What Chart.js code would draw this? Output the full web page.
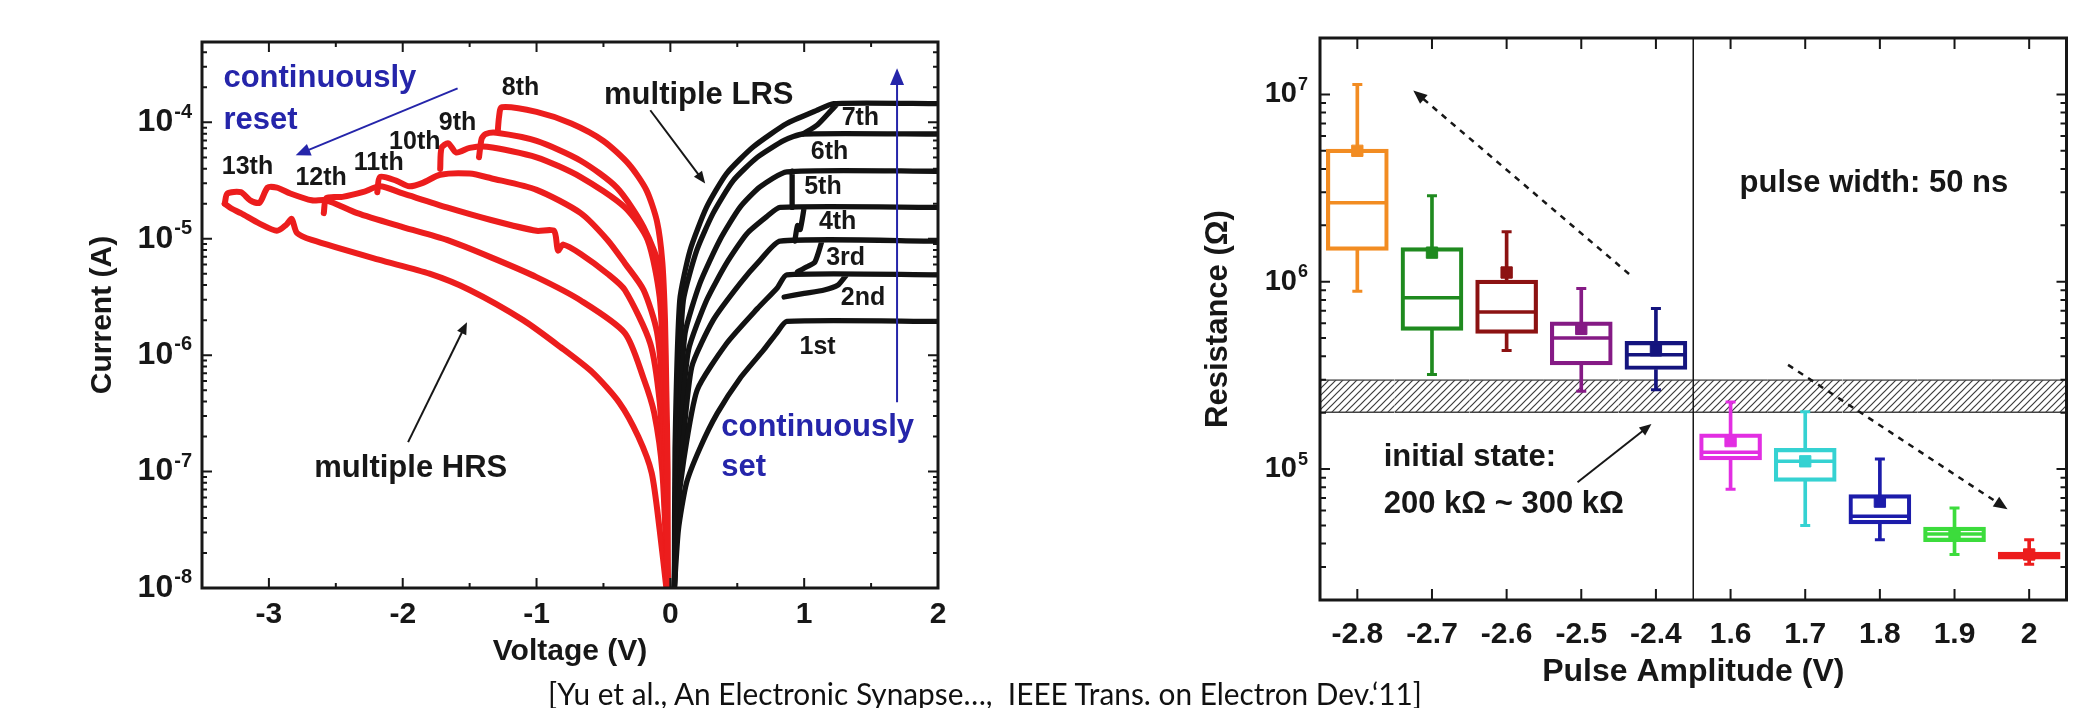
<!DOCTYPE html>
<html>
<head>
<meta charset="utf-8">
<script src="https://cdn.jsdelivr.net/npm/chart.js@4.4.1/dist/chart.umd.min.js"></script>
<style>
  html, body { margin: 0; padding: 0; background: #fff; }
  #wrap { position: relative; width: 2073px; height: 708px; overflow: hidden; background: #fff; }
  #ivChart { position: absolute; left: 0; top: 0; }
  #pulseChart { position: absolute; left: 1100px; top: 0; }
  #cite { position: absolute; left: 548px; top: 678px; font-family: Lato, "Open Sans", sans-serif; font-size: 30px; line-height: 30px; color: #111; white-space: pre; transform-origin: left top; }
</style>
</head>
<body>
<div id="wrap">
  <canvas id="ivChart" width="1000" height="708"></canvas>
  <canvas id="pulseChart" width="1000" height="708"></canvas>
  <div id="cite">[Yu et al., An Electronic Synapse…,  IEEE Trans. on Electron Dev.‘11]</div>
</div>
<script>
// ---- left panel: I-V sweeps as [voltage (V), current (A)], null = pen up ----
const set1 = [[0.03,1e-8],[0.06,3.16e-8],[0.12,7.94e-8],[0.22,1.58e-7],[0.35,3.16e-7],[0.52,6.31e-7],[0.70,1.12e-6],[0.80,1.58e-6],[0.87,1.95e-6],[2.0,1.95e-6]];
const set2 = [[0.03,1e-8],[0.05,3.98e-8],[0.10,1.26e-7],[0.20,5.01e-7],[0.42,1.26e-6],[0.65,2.51e-6],[0.80,3.80e-6],[0.87,4.90e-6],[2.0,4.90e-6],null,[0.85,3.16e-6],[1.0,3.39e-6],[1.15,3.63e-6],[1.25,3.98e-6],[1.31,4.79e-6]];
const set3 = [[0.03,1e-8],[0.05,5.01e-8],[0.09,1.58e-7],[0.16,7.94e-7],[0.32,2.0e-6],[0.52,4.12e-6],[0.67,6.53e-6],[0.82,9.55e-6],[2.0,9.55e-6],null,[0.95,5.2e-6],[1.02,5.75e-6],[1.08,6.31e-6],[1.13,9.33e-6]];
const set4 = [[0.03,1e-8],[0.045,6.31e-8],[0.08,2.51e-7],[0.135,1.10e-6],[0.27,2.95e-6],[0.42,6.17e-6],[0.57,1.10e-5],[0.72,1.55e-5],[0.82,1.86e-5],[2.0,1.86e-5],null,[0.93,9.55e-6],[0.95,1.3e-5],[0.97,1.2e-5],[1.0,1.86e-5]];
const set5 = [[0.03,1e-8],[0.04,6.31e-8],[0.07,3.16e-7],[0.11,1.55e-6],[0.22,4.12e-6],[0.37,9.77e-6],[0.52,1.86e-5],[0.67,2.79e-5],[0.87,3.76e-5],[2.0,3.80e-5],null,[0.91,1.86e-5],[0.91,3.80e-5]];
const set6 = [[0.03,1e-8],[0.04,1e-7],[0.06,5.01e-7],[0.097,2.95e-6],[0.197,7.94e-6],[0.32,1.66e-5],[0.47,3.16e-5],[0.65,5.01e-5],[0.85,7.0e-5],[0.99,7.94e-5],[2.0,7.94e-5]];
const set7 = [[0.03,1e-8],[0.035,1.58e-7],[0.07,2.95e-6],[0.147,7.94e-6],[0.27,1.86e-5],[0.42,3.63e-5],[0.62,6.17e-5],[0.87,9.77e-5],[1.09,1.26e-4],[1.22,1.45e-4],[2.0,1.45e-4],null,[0.99,7.94e-5],[1.1,9.55e-5],[1.2,1.26e-4],[1.24,1.41e-4]];

const reset8 = [[-0.02,1e-8],[-0.02,1e-7],[-0.03,5.0e-7],[-0.04,2.0e-6],[-0.06,6.3e-6],[-0.1,1.41e-5],[-0.18,2.63e-5],[-0.31,4.37e-5],[-0.5,6.92e-5],[-0.74,9.77e-5],[-1.0,1.23e-4],[-1.26,1.35e-4],[-1.28,1.12e-4],[-1.29,8.32e-5]];
const reset9 = [[-0.02,1e-8],[-0.03,1e-7],[-0.04,6.31e-7],[-0.07,5.01e-6],[-0.2,1.26e-5],[-0.4,2.75e-5],[-0.67,4.68e-5],[-1.0,6.92e-5],[-1.3,8.13e-5],[-1.38,7.94e-5],[-1.41,7.24e-5],[-1.43,5.01e-5]];
const reset10 = [[-0.02,1e-8],[-0.03,1e-7],[-0.05,6.31e-7],[-0.08,3.16e-6],[-0.17,9.77e-6],[-0.34,1.86e-5],[-0.67,3.39e-5],[-1.0,5.01e-5],[-1.37,6.17e-5],[-1.5,6.03e-5],[-1.6,5.50e-5],[-1.66,6.61e-5],[-1.71,6.03e-5],[-1.72,3.98e-5]];
const reset11 = [[-0.02,1e-8],[-0.04,1e-7],[-0.06,5.01e-7],[-0.1,1.58e-6],[-0.2,3.63e-6],[-0.34,6.17e-6],[-0.47,9.77e-6],[-0.67,1.66e-5],[-1.0,2.63e-5],[-1.34,3.31e-5],[-1.5,3.63e-5],[-1.72,3.55e-5],[-1.85,3.02e-5],[-1.95,2.82e-5],[-2.05,3.16e-5],[-2.17,3.39e-5],[-2.19,2.51e-5]];
const reset12 = [[-0.02,1e-8],[-0.05,1e-7],[-0.08,3.98e-7],[-0.15,1.26e-6],[-0.34,3.63e-6],[-0.47,5.01e-6],[-0.67,7.41e-6],[-0.8,8.91e-6],[-0.84,7.94e-6],[-0.87,1.17e-5],[-1.0,1.17e-5],[-1.34,1.45e-5],[-1.67,1.86e-5],[-2.0,2.45e-5],[-2.17,2.82e-5],[-2.3,2.51e-5],[-2.45,2.29e-5],[-2.57,2.24e-5],[-2.59,1.66e-5]];
const reset13 = [[-0.02,1e-8],[-0.06,1e-7],[-0.12,3.16e-7],[-0.2,6.31e-7],[-0.34,1.55e-6],[-0.67,2.95e-6],[-1.0,4.68e-6],[-1.34,6.92e-6],[-1.67,9.77e-6],[-2.0,1.26e-5],[-2.34,1.66e-5],[-2.57,2.14e-5],[-2.68,2.14e-5],[-2.84,2.45e-5],[-2.94,2.75e-5],[-3.01,2.75e-5],[-3.07,2.04e-5],[-3.14,2.14e-5],[-3.21,2.51e-5],[-3.31,2.45e-5],[-3.33,2.0e-5]];
const reset13Back = [[-3.33,2.0e-5],[-3.28,1.82e-5],[-3.21,1.66e-5],[-3.07,1.35e-5],[-2.94,1.17e-5],[-2.87,1.32e-5],[-2.83,1.48e-5],[-2.79,1.12e-5],[-2.68,9.77e-6],[-2.18,6.61e-6],[-1.8,5.01e-6],[-1.5,3.63e-6],[-1.1,2.0e-6],[-0.82,1.17e-6],[-0.58,7.08e-7],[-0.38,3.89e-7],[-0.24,2.0e-7],[-0.14,9.77e-8],[-0.08,3.16e-8],[-0.03,1e-8]];

const setNames = ['1st', '2nd', '3rd', '4th', '5th', '6th', '7th'];
const setNameV = [1.10, 1.44, 1.31, 1.25, 1.14, 1.19, 1.42];
const setNameI = [1.17e-6, 3.08e-6, 6.81e-6, 1.39e-5, 2.77e-5, 5.52e-5, 1.08e-4];
const resetNames = ['8th', '9th', '10th', '11th', '12th', '13th'];
const resetNameV = [-1.12, -1.59, -1.91, -2.18, -2.61, -3.16];
const resetNameI = [1.96e-4, 9.8e-5, 6.73e-5, 4.45e-5, 3.30e-5, 4.11e-5];
const currentDecades = [-8, -7, -6, -5, -4];

// ---- right panel: resistance after one pulse, box statistics (ohm) ----
const amplitudes = ['-2.8', '-2.7', '-2.6', '-2.5', '-2.4', '1.6', '1.7', '1.8', '1.9', '2'];
const whiskerLow = [8.9e5, 3.2e5, 4.3e5, 2.6e5, 2.65e5, 7.8e4, 5.0e4, 4.2e4, 3.5e4, 3.1e4];
const quartile1 = [1.47e6, 5.5e5, 5.3e5, 3.6e5, 3.4e5, 1.12e5, 8.6e4, 5.1e4, 4.1e4, 3.3e4];
const medians = [2.64e6, 8.2e5, 6.9e5, 5.0e5, 4.07e5, 1.23e5, 1.10e5, 5.6e4, 4.5e4, 3.45e4];
const quartile3 = [5.1e6, 1.52e6, 1.02e6, 6.1e5, 4.8e5, 1.54e5, 1.29e5, 7.3e4, 4.9e4, 3.6e4];
const whiskerHigh = [1.13e7, 2.88e6, 1.85e6, 9.2e5, 7.2e5, 2.28e5, 2.02e5, 1.13e5, 6.2e4, 4.2e4];
const means = [5.0e6, 1.43e6, 1.12e6, 5.6e5, 4.3e5, 1.41e5, 1.10e5, 6.7e4, 4.5e4, 3.5e4];
const initialLow = 2e5;
const initialHigh = 3e5;
const resistanceDecades = [5, 6, 7];

const boxColors = ['#f28c22', '#1f8a1f', '#8c1212', '#851a85', '#14147e', '#e22ee2', '#35d2d2', '#1c1caa', '#3cdc3c', '#ec1c1c'];

const FONT = '"Liberation Sans", Arial, Helvetica, sans-serif';
const INK = '#171717';
const BLUE = '#2525aa';

function txt(ctx, s, x, y, size, color, align) {
    ctx.font = `bold ${size}px ${FONT}`;
    ctx.fillStyle = color || INK;
    ctx.textAlign = align || 'center';
    ctx.textBaseline = 'middle';
    ctx.fillText(s, x, y);
}

function arrow(ctx, x1, y1, x2, y2, color, width, head, dash) {
    const a = Math.atan2(y2 - y1, x2 - x1);
    ctx.save();
    ctx.strokeStyle = color;
    ctx.fillStyle = color;
    ctx.lineWidth = width;
    ctx.setLineDash(dash || []);
    ctx.beginPath();
    ctx.moveTo(x1, y1);
    ctx.lineTo(x2 - Math.cos(a) * head * 0.8, y2 - Math.sin(a) * head * 0.8);
    ctx.stroke();
    ctx.setLineDash([]);
    ctx.beginPath();
    ctx.moveTo(x2, y2);
    ctx.lineTo(x2 - head * Math.cos(a - 0.4), y2 - head * Math.sin(a - 0.4));
    ctx.lineTo(x2 - head * Math.cos(a + 0.4), y2 - head * Math.sin(a + 0.4));
    ctx.closePath();
    ctx.fill();
    ctx.restore();
}

function powLabel(ctx, exp, xRight, y, size, expSize) {
    ctx.font = `bold ${expSize}px ${FONT}`;
    const ew = ctx.measureText(exp).width;
    txt(ctx, '10', xRight - ew - 1, y, size, INK, 'right');
    txt(ctx, exp, xRight, y - size * 0.32, expSize, INK, 'right');
}

// frame plus inward tick marks on all four sides
function frame(ctx, area, xTicks, yTicks, lw) {
    ctx.save();
    ctx.strokeStyle = INK;
    ctx.lineWidth = 2;
    ctx.beginPath();
    xTicks.forEach(t => {
        ctx.moveTo(t.p, area.bottom); ctx.lineTo(t.p, area.bottom - t.len);
        ctx.moveTo(t.p, area.top); ctx.lineTo(t.p, area.top + t.len);
    });
    yTicks.forEach(t => {
        ctx.moveTo(area.left, t.p); ctx.lineTo(area.left + t.len, t.p);
        ctx.moveTo(area.right, t.p); ctx.lineTo(area.right - t.len, t.p);
    });
    ctx.stroke();
    ctx.lineWidth = lw;
    ctx.strokeRect(area.left, area.top, area.right - area.left, area.bottom - area.top);
    ctx.restore();
}

function logTicks(scale, min, max, majorLen, minorLen) {
    const out = [];
    const lo = Math.floor(Math.log10(min)), hi = Math.ceil(Math.log10(max));
    for (let n = lo; n <= hi; n++) {
        for (let k = 1; k <= 9; k++) {
            const v = k * Math.pow(10, n);
            if (v < min * 0.999 || v > max * 1.001) continue;
            out.push({ p: scale.getPixelForValue(v), len: k === 1 ? majorLen : minorLen });
        }
    }
    return out;
}

const ivDecor = {
    id: 'ivDecor',
    afterDatasetsDraw(chart) {
        const { ctx, chartArea: area, scales: { x, y } } = chart;
        const xTicks = [];
        for (let v = -3.5; v <= 2.001; v += 0.5) {
            xTicks.push({ p: x.getPixelForValue(v), len: Number.isInteger(v) ? 10 : 5 });
        }
        frame(ctx, area, xTicks, logTicks(y, y.min, y.max, 10, 5), 3);

        currentDecades.forEach(n => powLabel(ctx, '-' + Math.abs(n), area.left - 10, y.getPixelForValue(Math.pow(10, n)), 32, 20));

        txt(ctx, 'Voltage (V)', (area.left + area.right) / 2, 652, 30);
        ctx.save();
        ctx.translate(103, (area.top + area.bottom) / 2);
        ctx.rotate(-Math.PI / 2);
        txt(ctx, 'Current (A)', 0, 0, 30);
        ctx.restore();

        setNames.forEach((s, i) => txt(ctx, s, x.getPixelForValue(setNameV[i]), y.getPixelForValue(setNameI[i]), 25));
        resetNames.forEach((s, i) => txt(ctx, s, x.getPixelForValue(resetNameV[i]), y.getPixelForValue(resetNameI[i]), 25));

        const P = (v, i) => [x.getPixelForValue(v), y.getPixelForValue(i)];
        let p = P(-3.34, 2.39e-4); txt(ctx, 'continuously', p[0], p[1], 31, BLUE, 'left');
        p = P(-3.34, 1.04e-4); txt(ctx, 'reset', p[0], p[1], 31, BLUE, 'left');
        p = P(0.92, 1.71e-4); txt(ctx, 'multiple LRS', p[0], p[1], 31, INK, 'right');
        p = P(-1.94, 1.07e-7); txt(ctx, 'multiple HRS', p[0], p[1], 31);
        p = P(0.38, 2.41e-7); txt(ctx, 'continuously', p[0], p[1], 31, BLUE, 'left');
        p = P(0.38, 1.09e-7); txt(ctx, 'set', p[0], p[1], 31, BLUE, 'left');

        arrow(ctx, ...P(-1.59, 1.96e-4), ...P(-2.8, 5.21e-5), BLUE, 2, 16);
        arrow(ctx, ...P(1.694, 3.95e-7), ...P(1.694, 2.91e-4), BLUE, 2, 18);
        arrow(ctx, ...P(-0.15, 1.27e-4), ...P(0.26, 2.99e-5), INK, 2, 13);
        arrow(ctx, ...P(-1.96, 1.79e-7), ...P(-1.52, 1.92e-6), INK, 2, 13);
    }
};

const pulseDecor = {
    id: 'pulseDecor',
    afterDatasetsDraw(chart) {
        const { ctx, chartArea: area, scales: { x, y } } = chart;
        const xTicks = amplitudes.map((a, i) => ({ p: x.getPixelForValue(i), len: 11 }));
        frame(ctx, area, xTicks, logTicks(y, y.min, y.max, 10, 6), 3);

        const P = (c, v) => [x.getPixelForValue(c), y.getPixelForValue(v)];
        ctx.save();
        ctx.strokeStyle = INK;
        ctx.lineWidth = 1.5;
        ctx.beginPath();
        ctx.moveTo(x.getPixelForValue(4.5), area.top);
        ctx.lineTo(x.getPixelForValue(4.5), area.bottom);
        ctx.stroke();
        ctx.restore();

        resistanceDecades.forEach(n => powLabel(ctx, String(n), area.left - 12, y.getPixelForValue(Math.pow(10, n)), 29, 18));

        txt(ctx, 'Pulse Amplitude (V)', (area.left + area.right) / 2, 672, 32);
        ctx.save();
        ctx.translate(118, (area.top + area.bottom) / 2);
        ctx.rotate(-Math.PI / 2);
        txt(ctx, 'Resistance (\u03A9)', 0, 0, 31);
        ctx.restore();

        let p = P(6.92, 3.34e6); txt(ctx, 'pulse width: 50 ns', p[0], p[1], 31);
        p = P(0.354, 1.16e5); txt(ctx, 'initial state:', p[0], p[1], 31, INK, 'left');
        p = P(0.354, 6.5e4); txt(ctx, '200 k\u03A9 ~ 300 k\u03A9', p[0], p[1], 31, INK, 'left');

        arrow(ctx, ...P(2.95, 8.5e4), ...P(3.94, 1.74e5), INK, 2, 13);
        arrow(ctx, ...P(3.64, 1.1e6), ...P(0.75, 1.05e7), INK, 2.5, 15, [6, 6]);
        arrow(ctx, ...P(5.77, 3.6e5), ...P(8.71, 6.1e4), INK, 2.5, 15, [6, 6]);
    }
};

Chart.defaults.font.family = FONT;

const toPoints = c => c.map(p => p === null ? { x: null, y: null } : { x: p[0], y: p[1] });
const ivSets = [];
[set1, set2, set3, set4, set5, set6, set7].forEach(c => ivSets.push({ data: toPoints(c), borderColor: '#121212', borderWidth: 5.3, tension: 0.2 }));
[reset8, reset9, reset10, reset11, reset12, reset13, reset13Back].forEach(c => ivSets.push({ data: toPoints(c), borderColor: '#ec1d1d', borderWidth: 6, tension: 0.25 }));
ivSets.forEach(d => Object.assign(d, { showLine: true, pointRadius: 0, spanGaps: false, borderJoinStyle: 'round', borderCapStyle: 'round' }));

new Chart(document.getElementById('ivChart'), {
    type: 'scatter',
    data: { datasets: ivSets },
    options: {
        responsive: false,
        animation: false,
        devicePixelRatio: 1,
        layout: { padding: { left: 0, right: 62, top: 42, bottom: 0 } },
        plugins: { legend: { display: false }, tooltip: { enabled: false } },
        scales: {
            x: {
                type: 'linear', min: -3.5, max: 2,
                grid: { display: false, drawTicks: false }, border: { display: false },
                ticks: { stepSize: 1, includeBounds: false, padding: 9, color: INK, font: { size: 30, weight: 'bold' } },
                afterFit: s => { s.height = 120; }
            },
            y: {
                type: 'logarithmic', min: 1e-8, max: 4.9e-4,
                grid: { display: false, drawTicks: false }, border: { display: false },
                ticks: { display: false },
                afterFit: s => { s.width = 202; }
            }
        }
    },
    plugins: [ivDecor]
});

const pulseCanvas = document.getElementById('pulseChart');
const hatch = (() => {
    const c = document.createElement('canvas');
    c.width = 7; c.height = 7;
    const g = c.getContext('2d');
    g.fillStyle = '#ffffff';
    g.fillRect(0, 0, 7, 7);
    g.strokeStyle = '#3c3c3c';
    g.lineWidth = 1.2;
    g.beginPath();
    g.moveTo(-1, 8); g.lineTo(8, -1);
    g.moveTo(-1, 1); g.lineTo(1, -1);
    g.moveTo(6, 8); g.lineTo(8, 6);
    g.stroke();
    return pulseCanvas.getContext('2d').createPattern(c, 'repeat');
})();

const zip = (a, b) => a.map((v, i) => [v, b[i]]);
const pointRow = (data, style, radius, width, fill) => ({
    type: 'line', data, showLine: false, pointStyle: style, pointRadius: radius, pointHoverRadius: radius,
    pointBorderWidth: width, pointBorderColor: boxColors, pointBackgroundColor: fill ? boxColors : 'rgba(0,0,0,0)', order: 1
});

new Chart(pulseCanvas, {
    type: 'bar',
    data: {
        labels: amplitudes,
        datasets: [
            { data: amplitudes.map(() => [initialLow, initialHigh]), backgroundColor: hatch, borderColor: '#444',
              borderWidth: { top: 1.5, bottom: 1.5, left: 0, right: 0 }, borderSkipped: false,
              barPercentage: 1, categoryPercentage: 1, grouped: false, order: 9 },
            { data: zip(whiskerLow, quartile1), backgroundColor: boxColors, barThickness: 3, grouped: false, order: 5 },
            { data: zip(quartile3, whiskerHigh), backgroundColor: boxColors, barThickness: 3, grouped: false, order: 5 },
            { data: zip(quartile1, quartile3), backgroundColor: 'rgba(255,255,255,0)', borderColor: boxColors,
              borderWidth: 3.5, borderSkipped: false, barThickness: 62, grouped: false, order: 4 },
            pointRow(medians, 'line', 30, 3.5, false),
            pointRow(whiskerHigh, 'line', 5, 3, false),
            pointRow(whiskerLow, 'line', 5, 3, false),
            pointRow(means, 'rect', 8, 1, true)
        ]
    },
    options: {
        responsive: false,
        animation: false,
        devicePixelRatio: 1,
        layout: { padding: { left: 0, right: 18, top: 38, bottom: 0 } },
        plugins: { legend: { display: false }, tooltip: { enabled: false } },
        scales: {
            x: {
                offset: true,
                grid: { display: false, drawTicks: false }, border: { display: false },
                ticks: { autoSkip: false, maxRotation: 0, padding: 17, color: INK, font: { size: 30, weight: 'bold' } },
                afterFit: s => { s.height = 108; }
            },
            y: {
                type: 'logarithmic', min: 2e4, max: 2e7,
                grid: { display: false, drawTicks: false }, border: { display: false },
                ticks: { display: false },
                afterFit: s => { s.width = 220; }
            }
        }
    },
    plugins: [pulseDecor]
});

const cite = document.getElementById('cite');
cite.style.transform = `scaleX(${874 / cite.getBoundingClientRect().width})`;
</script>
</body>
</html>
